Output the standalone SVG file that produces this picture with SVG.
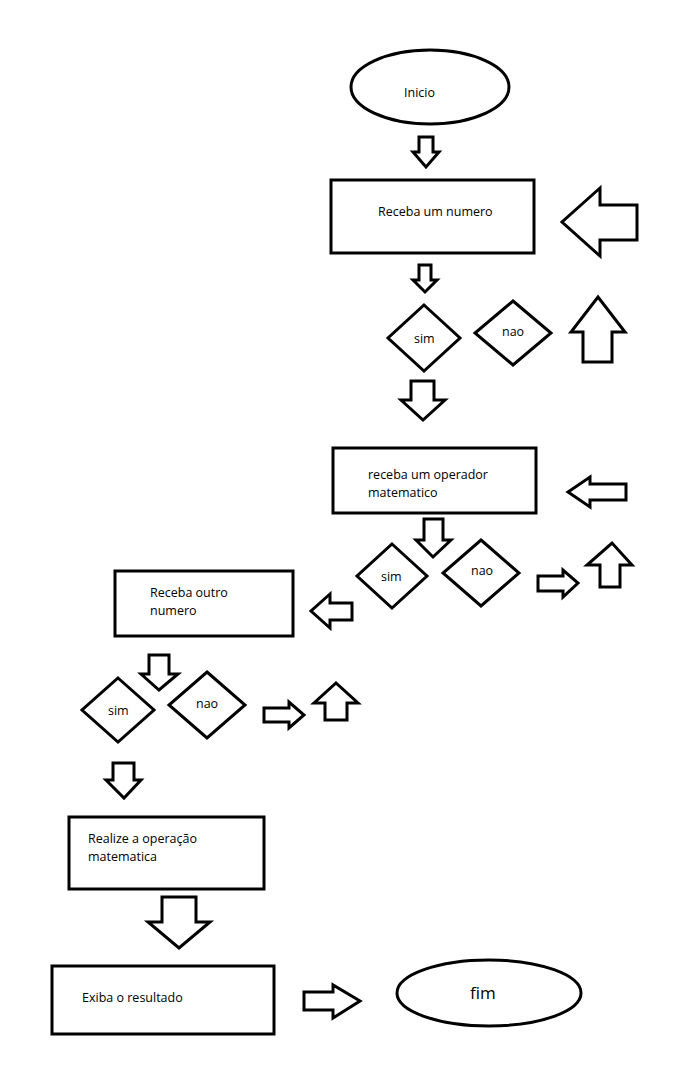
<svg xmlns="http://www.w3.org/2000/svg" width="700" height="1073" viewBox="0 0 700 1073">
<style>
.s{fill:#fff;stroke:#000;stroke-width:3}
.a{fill:#fff;stroke:#000;stroke-width:3;stroke-linejoin:miter}
text{font-family:"Open Sans","Liberation Sans",sans-serif;font-size:12.5px;fill:#000}
</style>
<rect width="700" height="1073" fill="#fff"/>
<g id="inicio"><ellipse class="s" cx="430" cy="87" rx="79" ry="37"/><text x="404" y="97">Inicio</text></g>
<g id="n1"><rect class="s" x="331" y="180" width="203" height="73"/><text x="378" y="216">Receba um numero</text></g>
<g id="d1sim"><polygon class="s" points="424,305 460,338 424,371 388,338"/><text x="414" y="343">sim</text></g>
<g id="d1nao"><polygon class="s" points="513,301 551,333 513,365 475,333"/><text x="502" y="336">nao</text></g>
<g id="n2"><rect class="s" x="333" y="448" width="203" height="65"/><text x="368" y="479">receba um operador</text><text x="368" y="497">matematico</text></g>
<g id="d2sim"><polygon class="s" points="392,544 427,576 392,608 357,576"/><text x="381" y="581">sim</text></g>
<g id="d2nao"><polygon class="s" points="481,540 519,573 481,606 443,573"/><text x="471" y="575">nao</text></g>
<g id="n3"><rect class="s" x="115" y="571" width="178" height="65"/><text x="150" y="597">Receba outro</text><text x="150" y="615">numero</text></g>
<g id="d3sim"><polygon class="s" points="118,678 154,710 118,742 82,710"/><text x="108" y="715">sim</text></g>
<g id="d3nao"><polygon class="s" points="207,672 245,705 207,738 169,705"/><text x="196" y="708">nao</text></g>
<g id="n4"><rect class="s" x="69" y="817" width="195" height="72"/><text x="88" y="843">Realize a operação</text><text x="88" y="861">matematica</text></g>
<g id="n5"><rect class="s" x="52" y="966" width="222" height="68"/><text x="82" y="1002">Exiba o resultado</text></g>
<g id="fim"><ellipse class="s" cx="489" cy="993" rx="92" ry="33"/><text x="470" y="999" style="font-size:17px">fim</text></g>
<g id="connectors">
<polygon class="a" points="419,137 433,137 433,152 439,152 426,167 413,152 419,152"/>
<polygon class="a" points="637,205 600,205 600,188 562,222 600,256 600,240 637,240"/>
<polygon class="a" points="419,265 431,265 431,280 437,280 425,292 413,280 419,280"/>
<polygon class="a" points="583,362 612,362 612,332 625,332 598,297 571,332 583,332"/>
<polygon class="a" points="411,381 434,381 434,400 445,400 423,420 401,400 411,400"/>
<polygon class="a" points="626,484 590,484 590,477 568,492 590,507 590,500 626,500"/>
<polygon class="a" points="424,519 443,519 443,540 451,540 433,557 416,540 424,540"/>
<polygon class="a" points="538,576 563,576 563,570 578,583 563,597 563,591 538,591"/>
<polygon class="a" points="600,587 620,587 620,565 632,565 612,543 587,565 600,565"/>
<polygon class="a" points="352,603 330,603 330,594 311,611 330,628 330,620 352,620"/>
<polygon class="a" points="149,655 169,655 169,674 178,674 159,690 141,674 149,674"/>
<polygon class="a" points="264,708 289,708 289,702 304,715 289,728 289,722 264,722"/>
<polygon class="a" points="325,720 347,720 347,703 358,703 336,683 314,703 325,703"/>
<polygon class="a" points="113,763 134,763 134,780 141,780 124,798 106,780 113,780"/>
<polygon class="a" points="162,897 196,897 196,922 210,922 179,948 148,922 162,922"/>
<polygon class="a" points="304,992 333,992 333,985 360,1001 333,1018 333,1010 304,1010"/>
</g>
</svg>
